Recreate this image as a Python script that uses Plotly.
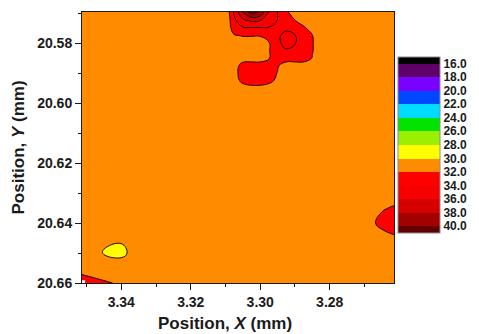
import plotly.graph_objects as go

# ---------------- data ----------------
x_mm = [3.2615, 3.265, 3.27, 3.275, 3.28, 3.2825, 3.285, 3.2875, 3.29, 3.2925,
        3.295, 3.2975, 3.30, 3.3025, 3.305, 3.3075, 3.31, 3.315, 3.32, 3.325,
        3.33, 3.335, 3.34, 3.345, 3.3513]

y_mm = [20.5696, 20.5725, 20.575, 20.5775, 20.58, 20.5825, 20.585, 20.5875, 20.59,
        20.5925, 20.595, 20.5975, 20.60, 20.605, 20.61, 20.615, 20.62, 20.625,
        20.63, 20.635, 20.64, 20.645, 20.65, 20.655, 20.66]

# one row per y value, one column per x value
temp_z = [
    [31, 31, 31, 31, 31, 31, 31, 31, 30.4, 32.5, 33.9, 35.9, 39.65, 41.1, 38.1, 34.35, 30.2, 31, 31, 31, 31, 31, 31, 31, 31],
    [31, 31, 31, 31, 31, 31, 31, 31, 32.1, 33, 33.9, 35.3, 36.0, 36.2, 35.5, 33.5, 30.3, 31, 31, 31, 31, 31, 31, 31, 31],
    [31, 31, 31, 31, 31, 31, 31, 32.4, 33, 33, 33.5, 33.8, 33.8, 33.8, 33.7, 33.0, 30.3, 31, 31, 31, 31, 31, 31, 31, 31],
    [31, 31, 31, 31, 31, 31, 32.05, 33, 34.1, 35.5, 33.2, 32.6, 32.1, 32.1, 32.1, 31.8, 31, 31, 31, 31, 31, 31, 31, 31, 31],
    [31, 31, 31, 31, 31, 31, 32.1, 33, 34.1, 35.5, 33, 31.9, 31, 31, 31, 31, 31, 31, 31, 31, 31, 31, 31, 31, 31],
    [31, 31, 31, 31, 31, 31, 32.1, 33, 33.2, 33.5, 33, 31.9, 31, 31, 31, 31, 31, 31, 31, 31, 31, 31, 31, 31, 31],
    [31, 31, 31, 31, 31, 31, 31.9, 33, 33, 33, 33, 31.9, 31, 31, 31, 31, 31, 31, 31, 31, 31, 31, 31, 31, 31],
    [31, 31, 31, 31, 31, 31, 31, 31, 31, 31, 32.2, 33, 33, 33, 32.8, 31, 31, 31, 31, 31, 31, 31, 31, 31, 31],
    [31, 31, 31, 31, 31, 31, 31, 31, 31, 31, 31.9, 33, 33, 33, 33.3, 31, 31, 31, 31, 31, 31, 31, 31, 31, 31],
    [31, 31, 31, 31, 31, 31, 31, 31, 31, 31, 31.5, 32.6, 33.6, 33.6, 32.6, 31, 31, 31, 31, 31, 31, 31, 31, 31, 31],
    [31, 31, 31, 31, 31, 31, 31, 31, 31, 31, 31, 31, 31, 31, 31, 31, 31, 31, 31, 31, 31, 31, 31, 31, 31],
    [31, 31, 31, 31, 31, 31, 31, 31, 31, 31, 31, 31, 31, 31, 31, 31, 31, 31, 31, 31, 31, 31, 31, 31, 31],
    [31, 31, 31, 31, 31, 31, 31, 31, 31, 31, 31, 31, 31, 31, 31, 31, 31, 31, 31, 31, 31, 31, 31, 31, 31],
    [31, 31, 31, 31, 31, 31, 31, 31, 31, 31, 31, 31, 31, 31, 31, 31, 31, 31, 31, 31, 31, 31, 31, 31, 31],
    [31, 31, 31, 31, 31, 31, 31, 31, 31, 31, 31, 31, 31, 31, 31, 31, 31, 31, 31, 31, 31, 31, 31, 31, 31],
    [31, 31, 31, 31, 31, 31, 31, 31, 31, 31, 31, 31, 31, 31, 31, 31, 31, 31, 31, 31, 31, 31, 31, 31, 31],
    [31, 31, 31, 31, 31, 31, 31, 31, 31, 31, 31, 31, 31, 31, 31, 31, 31, 31, 31, 31, 31, 31, 31, 31, 31],
    [31, 31, 31, 31, 31, 31, 31, 31, 31, 31, 31, 31, 31, 31, 31, 31, 31, 31, 31, 31, 31, 31, 31, 31, 31],
    [31, 31, 31, 31, 31, 31, 31, 31, 31, 31, 31, 31, 31, 31, 31, 31, 31, 31, 31, 31, 31, 31, 31, 31, 31],
    [32.19, 31.8, 31, 31, 31, 31, 31, 31, 31, 31, 31, 31, 31, 31, 31, 31, 31, 31, 31, 31, 31, 31, 31, 31, 31],
    [33.2, 32.56, 31, 31, 31, 31, 31, 31, 31, 31, 31, 31, 31, 31, 31, 31, 31, 31, 31, 31, 31, 31, 31, 31, 31],
    [31.66, 31.2, 31, 31, 31, 31, 31, 31, 31, 31, 31, 31, 31, 31, 31, 31, 31, 31, 31, 31, 31, 31, 30.3, 30.3, 31],
    [31, 31, 31, 31, 31, 31, 31, 31, 31, 31, 31, 31, 31, 31, 31, 31, 31, 31, 31, 31, 31, 31, 29.5, 29.9, 31],
    [31, 31, 31, 31, 31, 31, 31, 31, 31, 31, 31, 31, 31, 31, 31, 31, 31, 31, 31, 31, 31, 31, 31.1, 31.5, 31],
    [31, 31, 31, 31, 31, 31, 31, 31, 31, 31, 31, 31, 31, 31, 31, 31, 31, 31, 31, 31, 31, 31, 31.9, 32.1, 33.27],
]

levels = [16.0, 18.0, 20.0, 22.0, 24.0, 26.0, 28.0, 30.0, 32.0, 34.0, 36.0, 38.0, 40.0]
band_colors = ["#000000", "#5e0068", "#7a00ff", "#0048ff", "#00dcff", "#00e400",
               "#9bef00", "#ffff00", "#ff8c00", "#ff0000", "#f70000", "#d60000",
               "#a30000", "#620000"]

x_ticks = [3.34, 3.32, 3.30, 3.28]
x_minor = [3.35, 3.33, 3.31, 3.29, 3.27]
y_ticks = [20.58, 20.60, 20.62, 20.64, 20.66]
y_minor = [20.57, 20.59, 20.61, 20.63, 20.65]
x_range = [3.3513, 3.2615]
y_range = [20.66, 20.5696]

FONT = "Liberation Sans, Arial, sans-serif"
INK = "#1a1a1a"

# ---------------- figure ----------------
n = len(band_colors)
step = levels[1] - levels[0]
cs_main = [[i / (n - 1), c] for i, c in enumerate(band_colors)]

fig = go.Figure()
fig.add_trace(go.Contour(
    x=x_mm, y=y_mm, z=temp_z,
    zmin=levels[0] - step / 2, zmax=levels[-1] + step / 2,
    colorscale=cs_main, autocontour=False,
    contours=dict(start=levels[0], end=levels[-1], size=step,
                  coloring="fill", showlines=True),
    line=dict(color="#2a0000", width=1, smoothing=1.3),
    showscale=False,
))

# colour bar (16 on top, 40 at the bottom), drawn by an off-screen helper trace
neg_levels = [-v for v in levels]
cs_bar = [[i / (n - 1), c] for i, c in enumerate(reversed(band_colors))]
lo = min(neg_levels) - step / 2
hi = max(neg_levels) + step / 2
fig.add_trace(go.Contour(
    x=[0, 1], y=[0, 1], z=[[lo, hi], [lo, hi]],
    xaxis="x2", yaxis="y2",
    zmin=lo, zmax=hi, colorscale=cs_bar, autocontour=False,
    contours=dict(start=min(neg_levels), end=max(neg_levels), size=step,
                  coloring="fill", showlines=False),
    hoverinfo="skip", showscale=True,
    colorbar=dict(
        thickness=42, thicknessmode="pixels",
        len=176, lenmode="pixels",
        x=1.0138, xanchor="left", xpad=0,
        y=0.51, yanchor="middle", ypad=0,
        outlinewidth=1, outlinecolor="#8a8a8a",
        tickvals=neg_levels, ticktext=[f"{v:.1f}" for v in levels],
        ticks="", ticklen=3,
        tickfont=dict(family=FONT, size=12, color=INK, weight="bold"),
    ),
))

axis_common = dict(
    ticks="outside", ticklen=6, tickwidth=1, tickcolor=INK,
    showline=True, linecolor=INK, linewidth=1, mirror=True,
    showgrid=False, zeroline=False,
    tickfont=dict(family=FONT, size=14, color=INK, weight="bold"),
)

fig.update_layout(
    width=479, height=334,
    margin=dict(l=82, r=85, t=12, b=51),
    paper_bgcolor="white", plot_bgcolor="white",
    showlegend=False,
    xaxis=dict(range=x_range, tickvals=x_ticks, tickformat=".2f",
               minor=dict(tickvals=x_minor, ticks="outside", ticklen=3,
                          tickcolor=INK, showgrid=False),
               **axis_common),
    yaxis=dict(range=y_range, tickvals=y_ticks, tickformat=".2f",
               minor=dict(tickvals=y_minor, ticks="outside", ticklen=3,
                          tickcolor=INK, showgrid=False),
               **axis_common),
    xaxis2=dict(domain=[0, 0.01], anchor="y2", visible=False, range=[5, 6]),
    yaxis2=dict(domain=[0, 0.01], anchor="x2", visible=False, range=[5, 6]),
    annotations=[
        dict(text="Position, <i>X</i> (mm)", xref="paper", yref="paper",
             x=0.458, y=-0.148, xanchor="center", yanchor="middle",
             showarrow=False,
             font=dict(family=FONT, size=17, color=INK, weight="bold")),
        dict(text="Position, <i>Y</i> (mm)", xref="paper", yref="paper",
             x=-0.202, y=0.5, xanchor="center", yanchor="middle",
             textangle=-90, showarrow=False,
             font=dict(family=FONT, size=17, color=INK, weight="bold")),
    ],
)

fig.write_html("out.html")
